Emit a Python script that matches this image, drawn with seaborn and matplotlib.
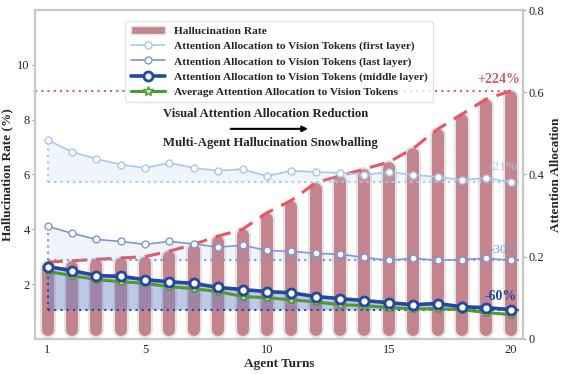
import numpy as np
import matplotlib
matplotlib.use('Agg')
import matplotlib.pyplot as plt
import seaborn as sns
from matplotlib.patches import Patch
from matplotlib.lines import Line2D

sns.set_style('white')
plt.rcParams['font.family'] = ['Liberation Serif', 'DejaVu Serif']

# Data
turns = list(range(1, 21))
halluc_rate = [2.8, 2.85, 2.9, 2.95, 3.0, 3.2, 3.45, 3.75, 4.0, 4.6,
               5.05, 5.7, 5.95, 6.2, 6.45, 6.95, 7.65, 8.2, 8.75, 9.05]
attn_first = [0.484, 0.455, 0.438, 0.424, 0.416, 0.428, 0.416, 0.409, 0.413, 0.396,
              0.409, 0.406, 0.404, 0.399, 0.406, 0.399, 0.394, 0.387, 0.391, 0.382]
attn_last = [0.274, 0.257, 0.242, 0.237, 0.230, 0.237, 0.231, 0.223, 0.228, 0.215,
             0.213, 0.208, 0.206, 0.198, 0.191, 0.196, 0.191, 0.193, 0.196, 0.191]
attn_middle = [0.176, 0.166, 0.154, 0.152, 0.144, 0.139, 0.135, 0.125, 0.120, 0.115,
               0.112, 0.103, 0.098, 0.093, 0.088, 0.083, 0.086, 0.078, 0.076, 0.071]
attn_avg = [0.164, 0.154, 0.144, 0.139, 0.135, 0.127, 0.122, 0.115, 0.103, 0.100,
            0.095, 0.090, 0.083, 0.081, 0.076, 0.073, 0.073, 0.071, 0.064, 0.059]
xticks = [1, 5, 10, 15, 20]

c_bar = '#c4848d'
c_dash = '#ea5463'
c_first = '#aac8e8'
c_last = '#7f97cf'
c_mid = '#2447a0'
c_avg = '#4e9a2f'

fig, ax = plt.subplots(figsize=(5.61, 3.74), dpi=100)
fig.subplots_adjust(left=0.063, right=0.932, top=0.973, bottom=0.094)
ax2 = ax.twinx()

# rounded bars for hallucination rate (left axis)
r = 0.22
tops = [v - r for v in halluc_rate]
ax.vlines(turns, 0.33, tops, color='#e4e4e4', lw=11.5, capstyle='round', zorder=1)
ax.vlines(turns, 0.33, tops, color=c_bar, lw=8.6, capstyle='round', zorder=2)

# trend line and reference level
sns.lineplot(x=turns, y=halluc_rate, ax=ax, color=c_dash, lw=2.2, zorder=3)
ax.lines[-1].set_dashes([5, 3])
ax.hlines(halluc_rate[-1], 0.5, turns[-1], color='#d0606a', lw=1.5, ls=(0, (1, 2)), zorder=3)
ax.text(19.5, 9.45, '+224%', color='#c9606b', fontsize=10, fontweight='bold',
        ha='center', va='center')

ax.set_xlim(0.5, 20.5)
ax.set_ylim(0, 12)
ax.set_yticks([2, 4, 6, 8, 10])
ax.set_xticks(xticks)
ax.set_xlabel('Agent Turns', fontsize=9.5, fontweight='bold', labelpad=1)
ax.set_ylabel('Hallucination Rate (%)', fontsize=9.5, fontweight='bold', labelpad=3)

# attention series (right axis)
series = [
    (attn_first, c_first, c_first, 0.18, 1.2, 5, 1.0),
    (attn_last, c_last, c_last, 0.1, 1.2, 5, 1.0),
    (attn_middle, c_mid, '#7088c8', 0.45, 2.6, 6.5, 2.0),
]
for vals, col, fcol, falpha, lw, ms, mew in series:
    ax2.fill_between(turns, vals, vals[-1], color=fcol, alpha=falpha, lw=0, zorder=1)
    ax2.hlines(vals[-1], turns[0], 20.5, color=col, lw=1.5, ls=(0, (1, 2)), zorder=2)
    ax2.vlines(turns[0], vals[-1], vals[0], color=col, lw=1.5, ls=(0, (1, 2)), zorder=2)

sns.lineplot(x=turns, y=attn_avg, ax=ax2, color=c_avg, lw=2.2, marker='*', ms=6,
             mfc='#cfe3c3', mec=c_avg, mew=1.0, zorder=4)
for vals, col, fcol, falpha, lw, ms, mew in series:
    sns.lineplot(x=turns, y=vals, ax=ax2, color=col, lw=lw, marker='o', ms=ms,
                 mfc='white', mec=col, mew=mew, zorder=5)

ax2.text(19.7, 0.418, '-21%', color=c_first, fontsize=9.5, ha='center', va='center')
ax2.text(19.7, 0.215, '-30%', color=c_last, fontsize=9.5, ha='center', va='center')
ax2.text(19.6, 0.104, '-60%', color=c_mid, fontsize=10, fontweight='bold', ha='center', va='center')

ax2.set_ylim(0, 0.8)
ax2.set_yticks([0, 0.2, 0.4, 0.6, 0.8])
ax2.set_yticklabels(['0', '0.2', '0.4', '0.6', '0.8'])
ax2.set_ylabel('Attention Allocation', fontsize=9.5, fontweight='bold', labelpad=4)

# central annotation
ax2.text(5.75, 0.546, 'Visual Attention Allocation Reduction', fontsize=9.2,
         fontweight='bold', ha='left', va='center')
ax2.text(5.75, 0.477, 'Multi-Agent Hallucination Snowballing', fontsize=9.2,
         fontweight='bold', ha='left', va='center')
ax2.annotate('', xy=(11.8, 0.511), xytext=(8.4, 0.511),
             arrowprops=dict(arrowstyle='-|>', color='black', lw=1.5, mutation_scale=8))

for a in (ax, ax2):
    for s in a.spines.values():
        s.set_color('#c8c8c8')
        s.set_linewidth(1.5)
    a.tick_params(labelsize=9, length=2, width=0.8, color='#999999', pad=2)

handles = [
    Patch(facecolor=c_bar, edgecolor='#e4e4e4', label='Hallucination Rate'),
    Line2D([], [], color=c_first, lw=1.2, marker='o', ms=5, mfc='white', mec=c_first,
           label='Attention Allocation to Vision Tokens (first layer)'),
    Line2D([], [], color=c_last, lw=1.2, marker='o', ms=5, mfc='white', mec=c_last,
           label='Attention Allocation to Vision Tokens (last layer)'),
    Line2D([], [], color=c_mid, lw=2.6, marker='o', ms=6.5, mfc='white', mec=c_mid, mew=2,
           label='Attention Allocation to Vision Tokens (middle layer)'),
    Line2D([], [], color=c_avg, lw=2.2, marker='*', ms=7, mfc='#cfe3c3', mec=c_avg,
           label='Average Attention Allocation to Vision Tokens'),
]
leg = ax2.legend(handles=handles, loc='upper center', bbox_to_anchor=(0.5, 0.985),
                 prop={'size': 8.2, 'weight': 'bold'}, frameon=True, handlelength=3,
                 borderpad=0.45, labelspacing=0.45, handletextpad=0.8)
leg.get_frame().set_edgecolor('#dddddd')
leg.set_zorder(10)

fig.savefig('out.png', dpi=100)
